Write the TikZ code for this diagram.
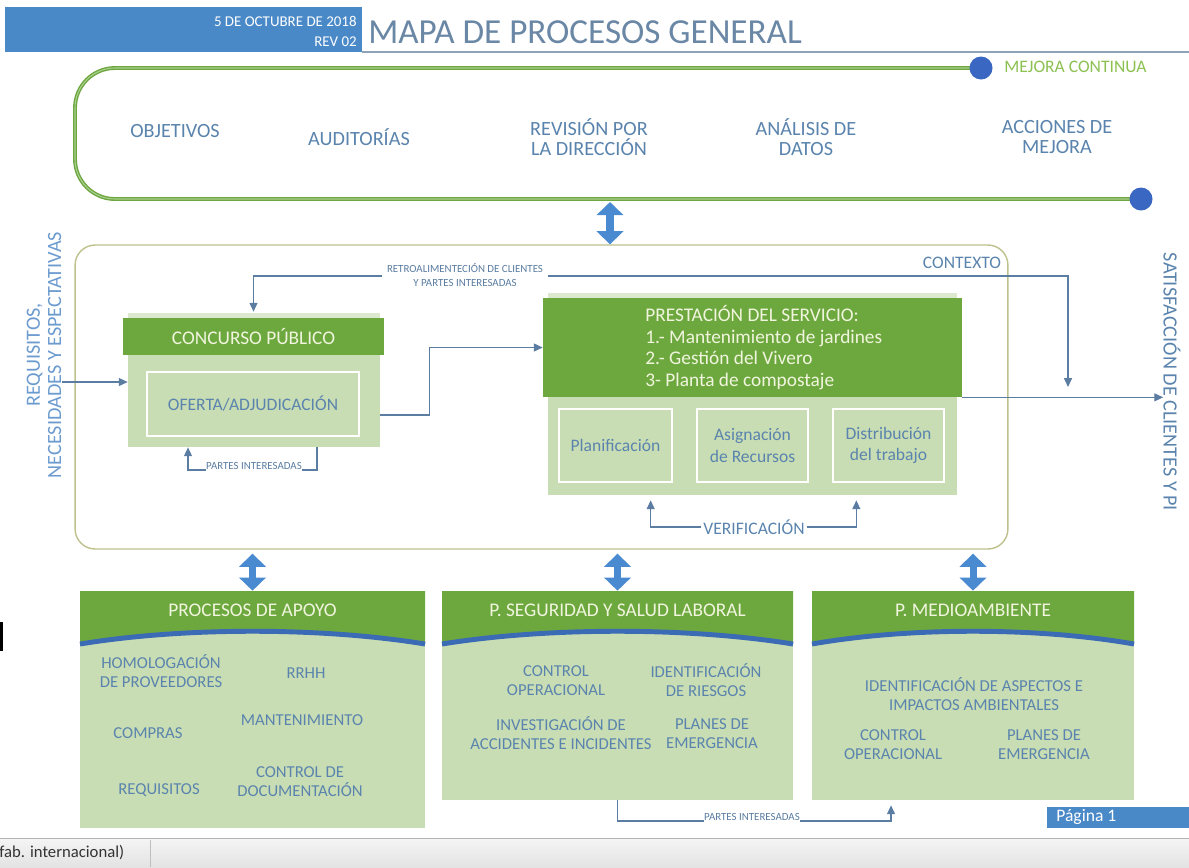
\documentclass[tikz,border=0pt]{standalone}
\usepackage{fontspec}
\setmainfont{Carlito}
\usetikzlibrary{arrows.meta}
\definecolor{hdrblue}{HTML}{4A89C8}
\definecolor{titleblue}{HTML}{6A87A5}
\definecolor{lineblue}{HTML}{8DA3B8}
\definecolor{dkgreen}{HTML}{6DA83F}
\definecolor{ltgreen}{HTML}{C9DDB4}
\definecolor{palegreen}{HTML}{DDE9CE}
\definecolor{loopgreen}{HTML}{6EA640}
\definecolor{loopltgreen}{HTML}{A9D08C}
\definecolor{mejgreen}{HTML}{8CC152}
\definecolor{txtblue}{HTML}{5A84AD}
\definecolor{sideblue}{HTML}{6C9BCF}
\definecolor{hdrtxt}{HTML}{F1F5DE}
\definecolor{waveblue}{HTML}{3B6BB5}
\definecolor{dotblue}{HTML}{3A67C2}
\definecolor{arrblue}{HTML}{4A8AD0}
\definecolor{connblue}{HTML}{5B7DA2}
\definecolor{ctxline}{HTML}{BEC18C}

\begin{document}
\begin{tikzpicture}[x=0.02cm, y=-0.02cm,
    every node/.style={inner sep=0pt},
    lbltop/.style={text=txtblue, align=center, font=\fontsize{11.5}{11.3}\selectfont},
    lblbox/.style={text=txtblue, align=center, font=\fontsize{10}{12}\selectfont},
    lblitem/.style={text=txtblue, align=center, font=\fontsize{9.5}{10.8}\selectfont},
    lblsmall/.style={text=connblue, align=center, font=\fontsize{6.2}{7.8}\selectfont},
    lblside/.style={text=sideblue, align=center, font=\fontsize{11.5}{12}\selectfont},
    lblhdr/.style={text=hdrtxt, font=\fontsize{11}{13}\selectfont},
    inbox/.style={draw=white, line width=0.8pt, fill=ltgreen},
    dotnode/.style={circle, fill=dotblue, minimum size=0.46cm},
    ctip/.tip={Triangle[length=5pt,width=4.5pt]},
    conn/.style={draw=connblue, line width=0.7pt},
    dblarrow/.style={draw=arrblue, line width=4pt, {Triangle[length=7.5pt,width=15pt]}-{Triangle[length=7.5pt,width=15pt]}},
    wavy/.style={draw=waveblue, line width=2.8pt}
]
\useasboundingbox (0,0) rectangle (1189,867);
\fill[white] (0,0) rectangle (1189,867);

\fill[hdrblue] (5,7) rectangle (362,52);
\node[anchor=east, text=white, font=\fontsize{8.5}{10}\selectfont] (fecha) at (357,21) {5 DE OCTUBRE DE 2018};
\node[anchor=east, text=white, font=\fontsize{8.5}{10}\selectfont] (revno) at (357,42) {REV 02};
\node[anchor=west, text=titleblue, font=\fontsize{20}{24}\selectfont] (titulo) at (368,32) {MAPA DE PROCESOS GENERAL};
\draw[lineblue, line width=0.6pt] (362,52) -- (1189,52);

\coordinate (mcA) at (981,68);
\coordinate (mcB) at (1141,199);
\draw[loopgreen, line width=0.8pt, double=loopltgreen, double distance=0.6pt, rounded corners=0.8cm]
    (mcA) -- (75,68) -- (75,199) -- (mcB);
\node[dotnode] (mc1) at (mcA) {};
\node[dotnode] (mc2) at (mcB) {};
\node[anchor=west, text=mejgreen, font=\fontsize{10}{12}\selectfont] (mejora) at (1004,67) {MEJORA CONTINUA};

\node[lbltop] (obj) at (175,131) {OBJETIVOS};
\node[lbltop] (aud) at (359,137) {AUDITORÍAS};
\node[lbltop] (revdir) at (589,137) {REVISIÓN POR\\LA DIRECCIÓN};
\node[lbltop] (anl) at (806,137) {ANÁLISIS DE\\DATOS};
\node[lbltop] (acc) at (1057,137) {ACCIONES DE\\MEJORA};

\node[draw=ctxline, line width=0.8pt, rounded corners=0.4cm, minimum width=18.66cm, minimum height=6.08cm] (ctx) at (541.5,397) {};
\node[lblbox] (contexto) at (962,263) {CONTEXTO};
\coordinate (mcb) at (610,202);
\draw[dblarrow] (mcb) -- (mcb |- ctx.north);

\node[lblside, rotate=90] (req) at (44,355) {REQUISITOS,\\NECESIDADES Y ESPECTATIVAS};
\node[lblside, rotate=-90, text=txtblue] (sat) at (1172,382) {SATISFACCIÓN DE CLIENTES Y PI};

\fill[palegreen] (128,313) rectangle (380,318);
\node[fill=dkgreen, lblhdr, minimum width=5.22cm, minimum height=0.74cm] (cph) at (253.5,336.5) {CONCURSO PÚBLICO};
\node[fill=ltgreen, minimum width=5.04cm, minimum height=1.84cm] (cpb) at (254,401) {};
\node[inbox, lblbox, minimum width=4.24cm, minimum height=1.28cm] (ofr) at (253,404) {OFERTA/ADJUDICACIÓN};

\fill[palegreen] (548,293) rectangle (957,298);
\node[fill=dkgreen, minimum width=8.38cm, minimum height=1.98cm] (psh) at (752.5,347.5) {};
\node[anchor=west, align=left, text=hdrtxt, font=\fontsize{11}{12.3}\selectfont] (pst) at (645,347.5)
    {PRESTACIÓN DEL SERVICIO:\\1.- Mantenimiento de jardines\\2.- Gestión del Vivero\\3- Planta de compostaje};
\node[fill=ltgreen, minimum width=8.18cm, minimum height=1.96cm] (psb) at (752.5,446) {};
\node[inbox, lblbox, minimum width=2.26cm, minimum height=1.46cm] (pl) at (615.5,445.5) {Planificación};
\node[inbox, lblbox, minimum width=2.22cm, minimum height=1.46cm] (asg) at (752.5,445.5) {Asignación\\de Recursos};
\node[inbox, lblbox, minimum width=2.22cm, minimum height=1.46cm] (di) at (888.5,445.5) {Distribución\\del trabajo};

\coordinate (fbtop) at (1068,276);
\coordinate (fbend) at (1068,387);
\draw[conn, ctip-ctip] ([yshift=0.12cm]cph.north) |- (fbtop) -- (fbend);
\node[lblsmall, fill=white, inner xsep=3pt, inner ysep=1pt] (fbl) at (465,275) {RETROALIMENTECIÓN DE CLIENTES\\Y PARTES INTERESADAS};
\draw[conn, -ctip] ([yshift=-0.28cm]cpb.east) -- ++(49,0) |- (psh.west);
\draw[conn, -ctip] (req.south |- 0,382) -- (cpb.west |- 0,382);
\draw[conn, -ctip] (psh.south east) -- (psh.south east -| sat.south);

\node[lblsmall] (pic) at (254,466) {PARTES INTERESADAS};
\draw[conn] ([xshift=1.26cm]cpb.south) |- (pic.south east);
\draw[conn, -ctip] (pic.south west) -| ([xshift=-1.32cm]cpb.south);

\node[lblbox, fill=white, inner xsep=1pt] (ver) at (754,527) {VERIFICACIÓN};
\draw[conn, -ctip] (ver.west) -| ([xshift=2.06cm,yshift=-0.1cm]psb.south west);
\draw[conn, -ctip] (ver.east) -| ([xshift=-2.02cm,yshift=-0.1cm]psb.south east);

\node[fill=ltgreen, minimum width=6.9cm, minimum height=4.74cm] (ap) at (252.5,709.5) {};
\node[fill=ltgreen, minimum width=7.02cm, minimum height=4.18cm] (sg) at (617.5,695.5) {};
\node[fill=ltgreen, minimum width=6.44cm, minimum height=4.18cm] (ma) at (973,695.5) {};
\foreach \xa/\xb in {80/425, 442/793, 812/1134}{
  \fill[dkgreen] (\xa,591) -- (\xb,591) -- (\xb,644) .. controls ({\xb-0.3*(\xb-\xa)},627) and ({\xa+0.3*(\xb-\xa)},627) .. (\xa,644) -- cycle;
  \draw[wavy] (\xb,644) .. controls ({\xb-0.3*(\xb-\xa)},627) and ({\xa+0.3*(\xb-\xa)},627) .. (\xa,644);
}
\node[lblhdr] (aph) at (252.5,610) {PROCESOS DE APOYO};
\node[lblhdr] (sgh) at (617.5,610) {P. SEGURIDAD Y SALUD LABORAL};
\node[lblhdr] (mah) at (973,610) {P. MEDIOAMBIENTE};
\draw[dblarrow, shorten <=0.08cm] (ap.north |- ctx.south) -- (ap.north);
\draw[dblarrow, shorten <=0.08cm] (sg.north |- ctx.south) -- (sg.north);
\draw[dblarrow, shorten <=0.08cm] (ma.north |- ctx.south) -- (ma.north);

\node[lblitem] (hom) at (161,671.5) {HOMOLOGACIÓN\\DE PROVEEDORES};
\node[lblitem] (rrhh) at (306,673) {RRHH};
\node[lblitem] (mant) at (302,720) {MANTENIMIENTO};
\node[lblitem] (comp) at (148,733) {COMPRAS};
\node[lblitem] (ctrl) at (300,782) {CONTROL DE\\DOCUMENTACIÓN};
\node[lblitem] (reqs) at (159,790) {REQUISITOS};

\node[lblitem] (cop) at (556,680.5) {CONTROL\\OPERACIONAL};
\node[lblitem] (idr) at (706,680.5) {IDENTIFICACIÓN\\DE RIESGOS};
\node[lblitem] (inv) at (561,733.5) {INVESTIGACIÓN DE\\ACCIDENTES E INCIDENTES};
\node[lblitem] (ple) at (712,733.5) {PLANES DE\\EMERGENCIA};

\node[lblitem] (ida) at (974,694) {IDENTIFICACIÓN DE ASPECTOS E\\IMPACTOS AMBIENTALES};
\node[lblitem] (cop2) at (893,744.5) {CONTROL\\OPERACIONAL};
\node[lblitem] (ple2) at (1044,744.5) {PLANES DE\\EMERGENCIA};

\node[lblsmall] (pib) at (752,817) {PARTES INTERESADAS};
\draw[conn] (sg.south) |- (pib.south west);
\draw[conn, -ctip] (pib.south east) -| ([xshift=-1.64cm,yshift=-0.1cm]ma.south);

\fill[hdrblue] (1047,807) rectangle (1189,828);
\node[anchor=west, text=white, font=\fontsize{10}{12}\selectfont] (pag) at (1056,817) {Página 1};

\fill[black] (0,622) rectangle (3,651);
\shade[top color=gray!8, bottom color=gray!22] (0,838) rectangle (1189,867);
\draw[gray!60] (0,838) -- (1189,838);
\draw[gray!50] (150,840) -- (150,867);
\node[anchor=west, text=black!80, font=\fontsize{9.5}{11}\selectfont] (estado) at (-1,853) {fab. internacional)};
\end{tikzpicture}
\end{document}
